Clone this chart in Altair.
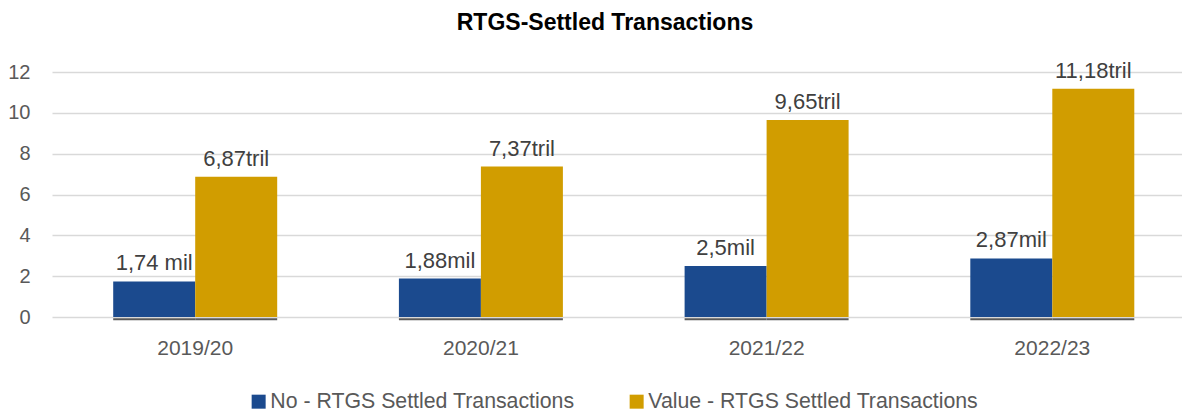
import altair as alt
import pandas as pd

years = ["2019/20", "2020/21", "2021/22", "2022/23"]
series = ["No - RTGS Settled Transactions", "Value - RTGS Settled Transactions"]
no_values = [1.74, 1.88, 2.5, 2.87]
value_values = [6.87, 7.37, 9.65, 11.18]
no_labels = ["1,74 mil", "1,88mil", "2,5mil", "2,87mil"]
value_labels = ["6,87tril", "7,37tril", "9,65tril", "11,18tril"]
colors = ["#1B4A8E", "#D19D00"]
y_ticks = [0, 2, 4, 6, 8, 10, 12]

rows = []
for i, y in enumerate(years):
    rows.append({"year": y, "series": series[0], "v": no_values[i], "label": no_labels[i]})
    rows.append({"year": y, "series": series[1], "v": value_values[i], "label": value_labels[i]})
df = pd.DataFrame(rows)

FONT = "Liberation Sans, Arial, sans-serif"

x = alt.X("year:N", sort=years, title=None,
          scale=alt.Scale(paddingInner=0.426, paddingOuter=0.1906, align=0.562, round=False),
          axis=alt.Axis(labelAngle=0, labelFontSize=21, labelColor="#595959", labelFont=FONT,
                        ticks=False, domain=False, labelPadding=20, grid=False))
xo = alt.XOffset("series:N", sort=series,
                 scale=alt.Scale(paddingInner=0, paddingOuter=0, round=False))
y = alt.Y("v:Q", title=None,
          scale=alt.Scale(domain=[0, 12], nice=False),
          axis=alt.Axis(values=y_ticks, labelFontSize=20, labelColor="#595959", labelFont=FONT,
                        ticks=False, domain=False, labelPadding=22, grid=True,
                        gridColor="#D9D9D9", gridWidth=1.5, gridOpacity=1))

bars = alt.Chart(df).mark_bar().encode(
    x=x, xOffset=xo, y=y,
    color=alt.Color("series:N", sort=series, scale=alt.Scale(domain=series, range=colors),
                    legend=alt.Legend(title=None, orient="none", direction="horizontal",
                                      legendX=196, legendY=319, symbolType="square",
                                      symbolSize=196, symbolStrokeWidth=0, labelFontSize=21.3,
                                      labelColor="#595959", labelFont=FONT, labelOffset=1,
                                      columnPadding=51, labelLimit=500)),
)

base_line = alt.Chart(df).mark_bar(color="#595959").encode(
    x=x, xOffset=xo, y=alt.datum(-0.06), y2=alt.datum(-0.16)
)

text = alt.Chart(df).mark_text(fontSize=22, color="#404040", font=FONT, baseline="alphabetic",
                               dy=-11).encode(
    x=x, xOffset=xo, y=y, text="label:N"
)

chart = alt.layer(bars, base_line, text).properties(
    width=1130, height=245,
    autosize=alt.AutoSizeParams(type="none"),
    padding={"left": 44, "top": 64, "right": 0, "bottom": 96},
    title=alt.TitleParams("RTGS-Settled Transactions", font="Liberation Sans, Arial, sans-serif",
                          fontSize=23, fontWeight="bold", color="#000000", anchor="middle",
                          offset=25, dx=-12),
).configure_view(stroke=None)

chart.save("out.html", embed_options={"renderer": "svg", "actions": False})
